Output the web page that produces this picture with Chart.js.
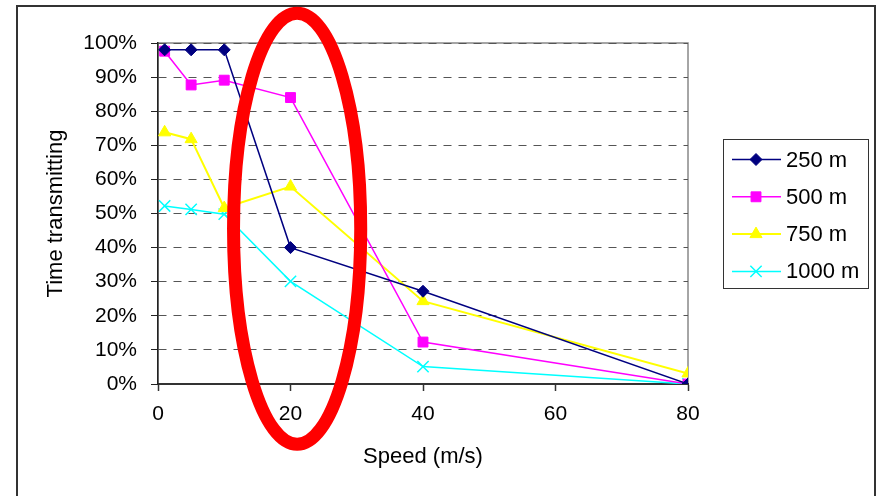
<!DOCTYPE html>
<html>
<head>
<meta charset="utf-8">
<script src="https://cdn.jsdelivr.net/npm/chart.js@4.4.0/dist/chart.umd.min.js"></script>
<style>
  html, body { margin: 0; padding: 0; background: #fff; }
  #wrap { width: 877px; height: 496px; }
</style>
</head>
<body>
<div id="wrap"><canvas id="speedChart" width="877" height="496"></canvas></div>
<script>
// values
const speeds = [1, 5, 10, 20, 40, 80];
const range250 = [98, 98, 98, 40, 27.2, 0];
const range500 = [97.6, 87.7, 89.1, 84, 12.3, 0];
const range750 = [73.8, 71.8, 51.6, 57.9, 24.3, 3.1];
const range1000 = [52.2, 51.2, 49.8, 30.1, 5.1, 0];
const seriesNames = ['250 m', '500 m', '750 m', '1000 m'];
const xTicks = [0, 20, 40, 60, 80];
const yTicks = [0, 10, 20, 30, 40, 50, 60, 70, 80, 90, 100];

// red ring drawn over the chart, in data units (speed, percent)
const ringCenter = [21, 45.5];
const ringRadius = [9.6, 63.2];

const FONT = "'Liberation Sans', Arial, sans-serif";

function toPoints(values) {
  return speeds.map((s, i) => ({ x: s, y: values[i] }));
}

// white page + outer frame + plot frame
const frame = {
  id: 'frame',
  beforeDraw(chart) {
    const ctx = chart.ctx;
    const a = chart.chartArea;
    ctx.save();
    ctx.fillStyle = '#fff';
    ctx.fillRect(0, 0, chart.width, chart.height);
    ctx.strokeStyle = '#333';
    ctx.lineWidth = 2;
    ctx.strokeRect(17, 6, 858, 520);
    ctx.strokeStyle = '#888';
    ctx.lineWidth = 1.5;
    ctx.strokeRect(a.left, a.top, a.right - a.left, a.bottom - a.top);
    ctx.restore();
  }
};

// legend drawn by hand so each entry shows line + marker
const legendBox = {
  id: 'legendBox',
  afterDraw(chart) {
    const ctx = chart.ctx;
    ctx.save();
    ctx.strokeStyle = '#333';
    ctx.lineWidth = 1;
    ctx.strokeRect(723.5, 139.5, 145, 149);
    ctx.font = '22px ' + FONT;
    ctx.textBaseline = 'middle';
    ctx.textAlign = 'left';
    chart.data.datasets.forEach((ds, i) => {
      const y = 159.5 + i * 37.3;
      ctx.strokeStyle = ds.borderColor;
      ctx.fillStyle = ds.backgroundColor;
      ctx.lineWidth = ds.borderWidth;
      ctx.beginPath();
      ctx.moveTo(732, y);
      ctx.lineTo(781, y);
      ctx.stroke();
      ctx.lineWidth = ds.pointBorderWidth;
      Chart.helpers.drawPoint(ctx, {
        pointStyle: ds.pointStyle, radius: ds.pointRadius,
        borderWidth: ds.pointBorderWidth, rotation: 0
      }, 756, y);
      ctx.fillStyle = '#000';
      ctx.fillText(ds.label, 786, y + 1);
    });
    ctx.restore();
  }
};

// the red ellipse on top
const ring = {
  id: 'ring',
  afterDraw(chart) {
    const xs = chart.scales.x, ys = chart.scales.y;
    const cx = xs.getPixelForValue(ringCenter[0]);
    const cy = ys.getPixelForValue(ringCenter[1]);
    const rx = xs.getPixelForValue(ringCenter[0] + ringRadius[0]) - cx;
    const ry = cy - ys.getPixelForValue(ringCenter[1] + ringRadius[1]);
    const ctx = chart.ctx;
    ctx.save();
    ctx.strokeStyle = '#ff0000';
    ctx.lineWidth = 13;
    ctx.beginPath();
    ctx.ellipse(cx, cy, rx, ry, 0, 0, Math.PI * 2);
    ctx.stroke();
    ctx.restore();
  }
};

const chart = new Chart(document.getElementById('speedChart'), {
  type: 'line',
  data: {
    datasets: [
      {
        label: seriesNames[0], data: toPoints(range250),
        borderColor: '#000080', backgroundColor: '#000080', borderWidth: 1.5,
        pointStyle: 'rectRot', pointRadius: 6, pointBorderWidth: 1
      },
      {
        label: seriesNames[1], data: toPoints(range500),
        borderColor: '#ff00ff', backgroundColor: '#ff00ff', borderWidth: 1.5,
        pointStyle: 'rect', pointRadius: 7, pointBorderWidth: 1
      },
      {
        label: seriesNames[2], data: toPoints(range750),
        borderColor: '#ffff00', backgroundColor: '#ffff00', borderWidth: 2,
        pointStyle: 'triangle', pointRadius: 7, pointBorderWidth: 1
      },
      {
        label: seriesNames[3], data: toPoints(range1000),
        borderColor: '#00ffff', backgroundColor: '#00ffff', borderWidth: 1.5,
        pointStyle: 'crossRot', pointRadius: 8, pointBorderWidth: 1.5
      }
    ]
  },
  options: {
    responsive: false,
    animation: false,
    devicePixelRatio: 1,
    layout: { padding: { left: 0, top: 43, right: 189, bottom: 0 } },
    plugins: { legend: { display: false }, tooltip: { enabled: false } },
    elements: { line: { tension: 0 } },
    scales: {
      x: {
        type: 'linear', min: 0, max: 80,
        afterBuildTicks: (s) => { s.ticks = xTicks.map(v => ({ value: v })); },
        afterFit: (s) => { s.height = 112; },
        grid: { drawOnChartArea: false, tickLength: 7, tickColor: '#333', tickWidth: 1.5 },
        border: { color: '#333', width: 2 },
        ticks: { color: '#000', padding: 11, font: { family: FONT, size: 21 } },
        title: {
          display: true, text: 'Speed (m/s)', color: '#000',
          font: { family: FONT, size: 22 }, padding: { top: 0, bottom: 26 }
        }
      },
      y: {
        type: 'linear', min: 0, max: 100,
        afterBuildTicks: (s) => { s.ticks = yTicks.map(v => ({ value: v })); },
        afterFit: (s) => { s.width = 158; },
        grid: { color: '#555', lineWidth: 1, tickLength: 7, tickColor: '#222', tickBorderDash: [] },
        border: { color: '#222', width: 1.5, dash: [8, 7] },
        ticks: {
          color: '#000', padding: 14, font: { family: FONT, size: 21 },
          callback: (v) => v + '%'
        },
        title: {
          display: true, text: 'Time transmitting', color: '#000',
          font: { family: FONT, size: 22 }, padding: { top: 43, bottom: 0 }
        }
      }
    }
  },
  plugins: [frame, legendBox, ring]
});
</script>
</body>
</html>
